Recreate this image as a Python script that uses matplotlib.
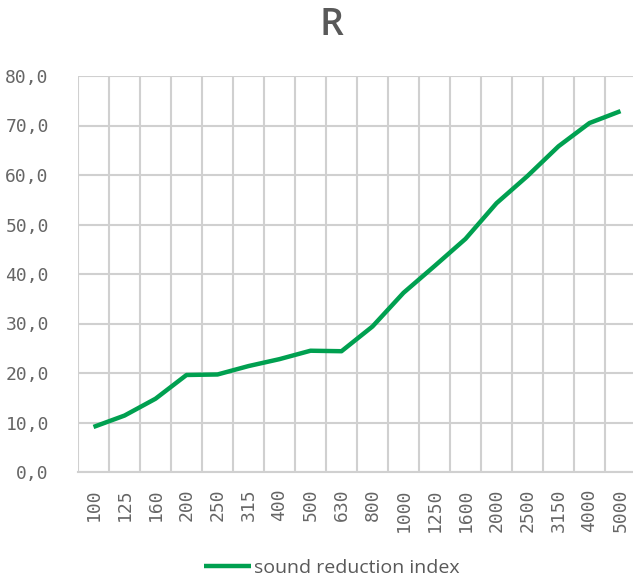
import matplotlib
matplotlib.use("Agg")
import matplotlib.pyplot as plt

freqs = ["100", "125", "160", "200", "250", "315", "400", "500", "630", "800",
         "1000", "1250", "1600", "2000", "2500", "3150", "4000", "5000"]
r_values = [9.1, 11.4, 14.8, 19.6, 19.7, 21.4, 22.8, 24.5, 24.4, 29.4,
            36.2, 41.6, 47.1, 54.3, 59.8, 65.8, 70.5, 72.9]
series_name = "sound reduction index"
title = "R"
yticks = [0, 10, 20, 30, 40, 50, 60, 70, 80]

fig = plt.figure(figsize=(6.33, 5.79), dpi=100)
ax = fig.add_axes([78/633, 107/579, 558/633, 396/579])

x = list(range(len(freqs)))
line, = ax.plot(x, r_values, color="#00A050", lw=3.2, solid_capstyle="butt",
                solid_joinstyle="round", label=series_name, zorder=3)

ax.set_xlim(-0.5, len(freqs) - 0.5)
ax.set_ylim(0, 80)
ax.set_yticks(yticks)
ax.set_yticklabels([f"{v:.1f}".replace(".", ",") for v in yticks],
                   family="DejaVu Sans Mono", fontsize=13, color="#666666")
ax.set_xticks(x)
ax.set_xticklabels(freqs, rotation=90, family="DejaVu Sans Mono", fontsize=13,
                   color="#666666", va="top")
ax.set_xticks([i - 0.5 for i in range(len(freqs) + 1)], minor=True)
ax.tick_params(axis="both", which="both", length=0)
ax.tick_params(axis="y", pad=21)
ax.tick_params(axis="x", pad=12)
ax.grid(False)
ax.yaxis.grid(True, color="#d0d0d0", lw=1.5)
ax.xaxis.grid(True, which="minor", color="#d0d0d0", lw=1.5)
for s in ["top", "right", "left"]:
    ax.spines[s].set_visible(False)
ax.spines["bottom"].set_color("#d0d0d0")
ax.spines["bottom"].set_linewidth(1.5)

fig.text(331/633, 1 - 25/579, title, ha="center", va="center", fontsize=27,
         color="#595959", family="Open Sans", weight="semibold")

fig.legend(handles=[line], loc="center", bbox_to_anchor=(332/633, 1 - 568/579),
           frameon=False, prop={"family": "Open Sans", "size": 14},
           labelcolor="#595959", handlelength=2.4, handletextpad=0.2)

fig.savefig("out.png", dpi=100)
